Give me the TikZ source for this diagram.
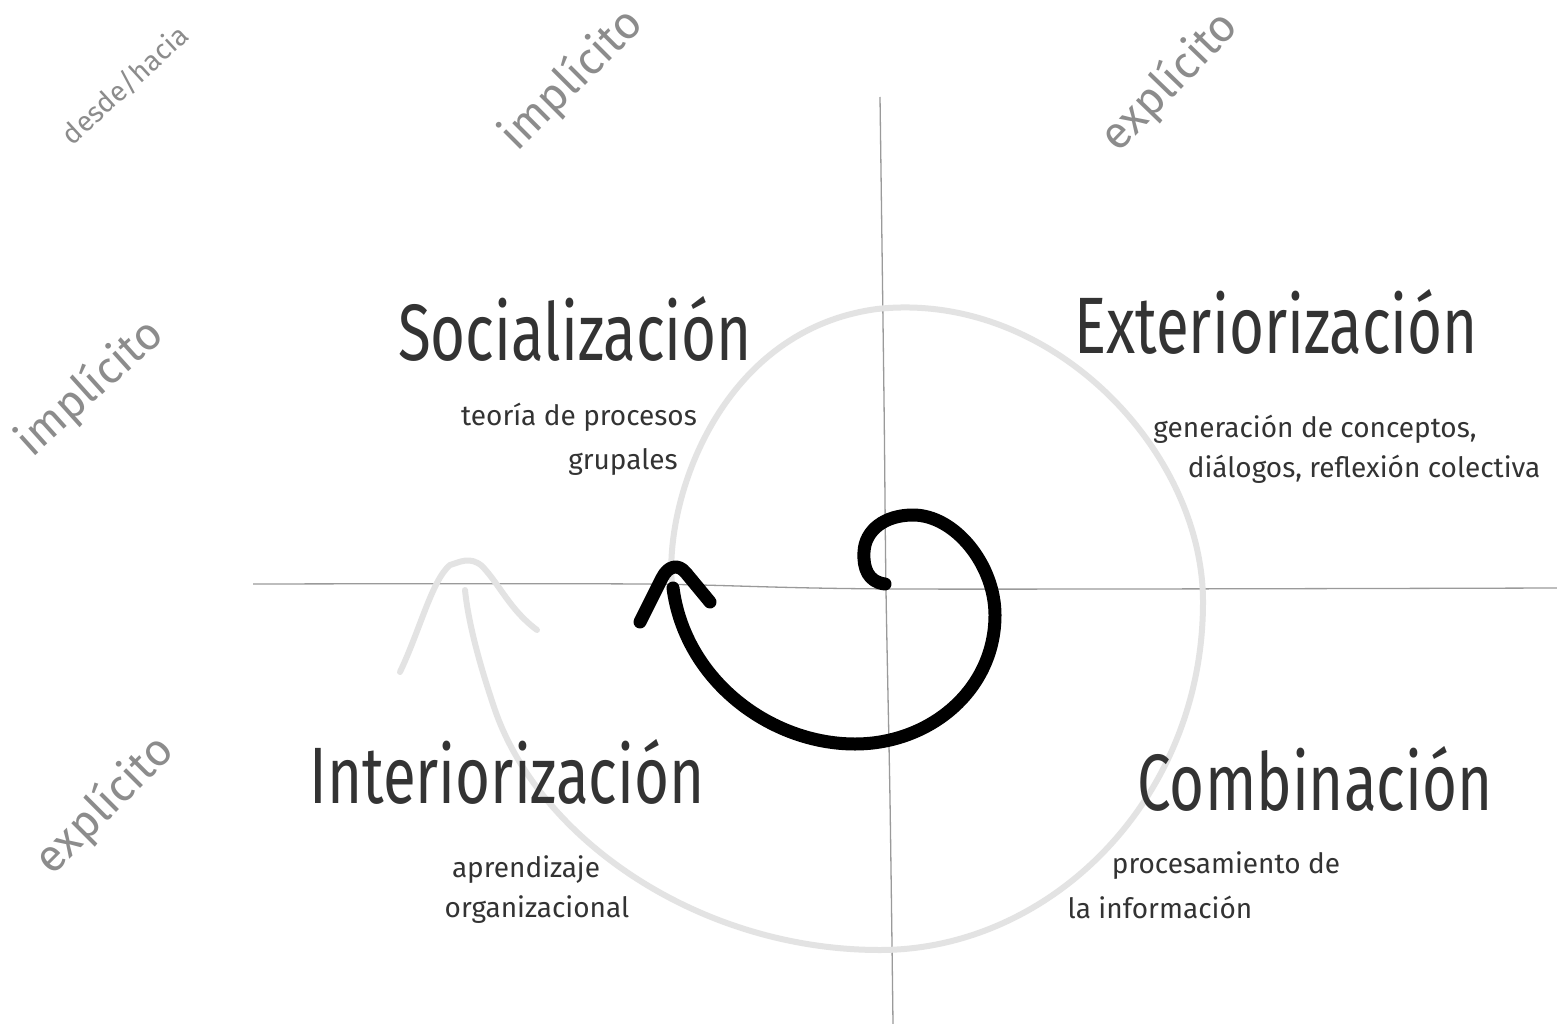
\documentclass[tikz,border=0pt]{standalone}
\usepackage{fontspec}
\newfontfamily\titlefont[FakeStretch=0.75]{Fira Sans}
\newfontfamily\notefont{Fira Sans}
\definecolor{ink}{HTML}{333333}
\definecolor{labelgray}{HTML}{8C8C8C}
\definecolor{axisgray}{HTML}{9A9A9A}
\definecolor{spiralgray}{HTML}{E3E3E3}
\tikzset{
  titletext/.style={font=\titlefont\fontsize{80}{90}\selectfont, text=ink, anchor=base, inner sep=0pt},
  notetext/.style={font=\notefont\fontsize{28}{32}\selectfont, text=ink, anchor=base, inner sep=0pt},
  sidelabel/.style={font=\notefont\fontsize{45}{50}\selectfont, text=labelgray, inner sep=0pt},
  smalllabel/.style={font=\notefont\fontsize{28}{32}\selectfont, text=labelgray, inner sep=0pt},
  axisline/.style={draw=axisgray, line width=1.3pt},
  bigspiral/.style={draw=spiralgray, line width=6pt, line cap=round, line join=round},
  smallspiral/.style={draw=black, line width=13pt, line cap=round, line join=round},
}
\begin{document}
\begin{tikzpicture}[x=1pt,y=-1pt]
\useasboundingbox[fill=white] (0,0) rectangle (1557,1024);

% axes
\draw[axisline] plot[smooth] coordinates {(880,97) (884,400) (886,590) (890,800) (893,1024)};
\draw[axisline] plot[smooth] coordinates {(253,584) (640,584) (900,589) (1557,588)};

% grey outer spiral
\draw[bigspiral] (672,585)
  .. controls (664,500) and (720,330) .. (877,309)
  .. controls (1050,290) and (1203,450) .. (1203,602)
  .. controls (1203,800) and (1050,950) .. (880,950)
  .. controls (700,950) and (540,840) .. (495,710)
  .. controls (478,660) and (468,620) .. (465,590);
\draw[bigspiral] (400,672) .. controls (420,630) and (432,580) .. (450,565)
  .. controls (460,562) and (470,556) .. (482,566)
  .. controls (500,585) and (510,610) .. (537,630);

% black inner spiral
\draw[smallspiral] (885,584)
  .. controls (868,582) and (863,568) .. (864,552)
  .. controls (865,530) and (885,515) .. (913,515)
  .. controls (955,515) and (995,565) .. (995,615)
  .. controls (995,690) and (930,744) .. (855,744)
  .. controls (770,744) and (685,680) .. (673,588);
\draw[smallspiral] (640,622) -- (662,578)
  .. controls (668,566) and (678,563) .. (686,573) -- (710,602);

% titles
\node[titletext] (soc) at (575,360) {Socialización};
\node[titletext] (ext) at (1276,353) {Exteriorización};
\node[titletext] (int) at (507,803) {Interiorización};
\node[titletext] (com) at (1315,810) {Combinación};

% notes
\node[notetext] (soc1) at (579,425) {teoría de procesos};
\node[notetext] (soc2) at (623,469) {grupales};
\node[notetext] (ext1) at (1315,437) {generación de conceptos,};
\node[notetext] (ext2) at (1364,477) {diálogos, reflexión colectiva};
\node[notetext] (int1) at (526,877) {aprendizaje};
\node[notetext] (int2) at (537,917) {organizacional};
\node[notetext] (com1) at (1226,873) {procesamiento de};
\node[notetext] (com2) at (1160,918) {la información};

% rotated side labels
\node[smalllabel, rotate=42.5] (dh) at (125,85) {desde/hacia};
\node[sidelabel, rotate=45] (imptop) at (572,80) {implícito};
\node[sidelabel, rotate=46] (exptop) at (1170,82) {explícito};
\node[sidelabel, rotate=42] (impleft) at (90,388) {implícito};
\node[sidelabel, rotate=45] (expleft) at (105,805) {explícito};
\end{tikzpicture}
\end{document}
